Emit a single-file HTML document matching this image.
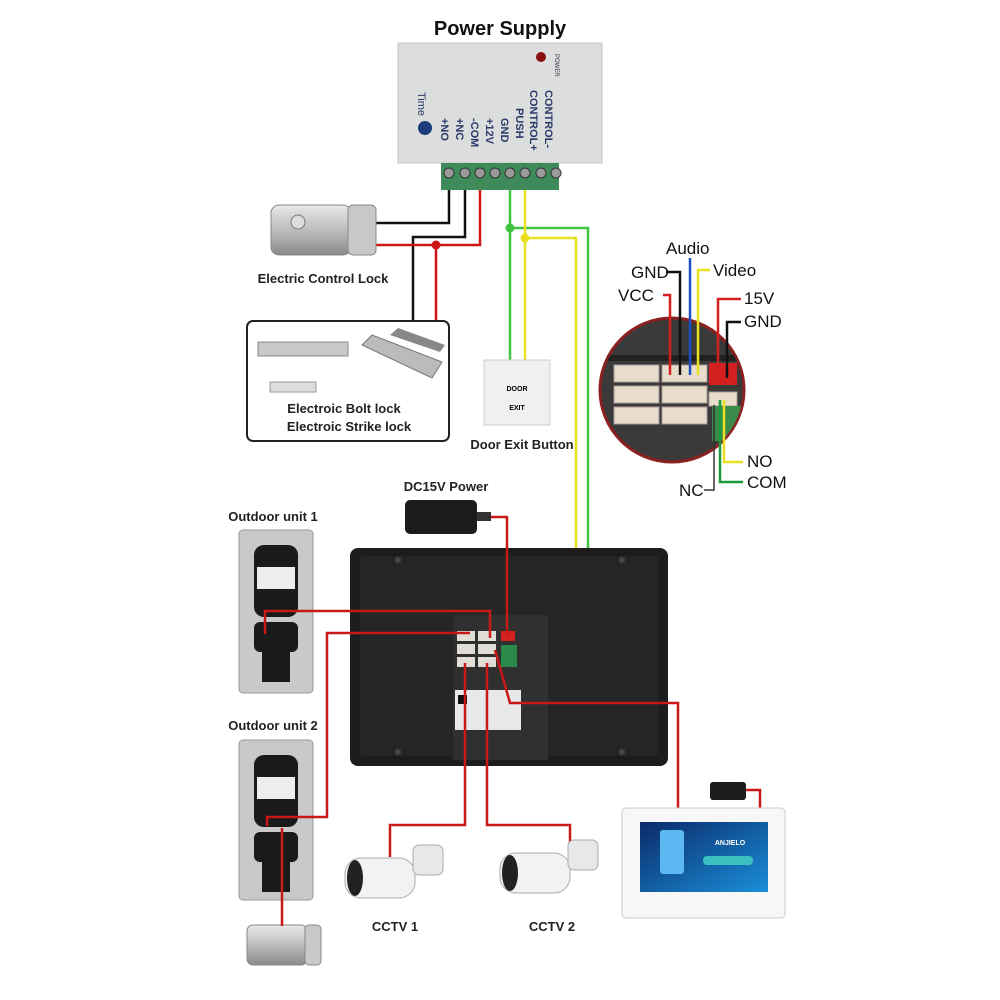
<!DOCTYPE html>
<html><head><meta charset="utf-8"><style>
body{margin:0;background:#fff;}
svg{display:block;font-family:"Liberation Sans",Arial,sans-serif;}
</style></head><body>
<svg width="1000" height="1000" viewBox="0 0 1000 1000" xmlns="http://www.w3.org/2000/svg">
<defs>
<linearGradient id="metal" x1="0" y1="0" x2="0" y2="1"><stop offset="0" stop-color="#e8e8e8"/><stop offset=".5" stop-color="#bdbdbd"/><stop offset="1" stop-color="#8a8a8a"/></linearGradient>
<linearGradient id="scr" x1="0" y1="0" x2="1" y2="1"><stop offset="0" stop-color="#0b2a6a"/><stop offset="1" stop-color="#1a8fd8"/></linearGradient>
<clipPath id="cc"><circle cx="672" cy="390" r="71"/></clipPath>
</defs>
<rect width="1000" height="1000" fill="#fff"/>
<!-- Power supply -->
<text x="500" y="35" font-size="20" font-weight="bold" text-anchor="middle" fill="#111">Power Supply</text>
<rect x="398" y="43" width="204" height="120" fill="#dcdedd" stroke="#c4c6c5"/>
<circle cx="541" cy="57" r="5" fill="#8a1010"/>
<text x="555" y="54" font-size="6" fill="#334" transform="rotate(90 555 54)">POWER</text>
<g font-size="11" fill="#2a3a6a" font-weight="bold">
<text transform="translate(545,90) rotate(90)">CONTROL-</text>
<text transform="translate(530,90) rotate(90)">CONTROL+</text>
<text transform="translate(516,108) rotate(90)">PUSH</text>
<text transform="translate(501,118) rotate(90)">GND</text>
<text transform="translate(486,118) rotate(90)">+12V</text>
<text transform="translate(471,118) rotate(90)">-COM</text>
<text transform="translate(456,118) rotate(90)">+NC</text>
<text transform="translate(441,118) rotate(90)">+NO</text>
<text transform="translate(418,92) rotate(90)" font-weight="normal">Time</text>
</g>
<circle cx="425" cy="128" r="7" fill="#1b3d7a"/>
<rect x="441" y="163" width="118" height="27" fill="#3f8a5a"/>
<g fill="#9a9a9a" stroke="#333" stroke-width="1">
<circle cx="449" cy="173" r="5"/><circle cx="465" cy="173" r="5"/><circle cx="480" cy="173" r="5"/><circle cx="495" cy="173" r="5"/><circle cx="510" cy="173" r="5"/><circle cx="525" cy="173" r="5"/><circle cx="541" cy="173" r="5"/><circle cx="556" cy="173" r="5"/>
</g>
<!-- wires from PS -->
<g fill="none" stroke-width="2.5">
<polyline points="449,190 449,223 370,223" stroke="#111"/>
<polyline points="465,190 465,237 413,237 413,322" stroke="#111"/>
<polyline points="480,190 480,245 372,245" stroke="#d01515"/>
<polyline points="436,245 436,322" stroke="#d01515"/>
<polyline points="510,190 510,362" stroke="#3ec43e"/>
<polyline points="510,228 588,228 588,682 510,682 510,650" stroke="#3ec43e"/>
<polyline points="525,190 525,362" stroke="#e8e020"/>
<polyline points="525,238 576,238 576,674 516,674 516,650" stroke="#e8e020"/>
</g>
<circle cx="436" cy="245" r="4.5" fill="#d01515"/>
<circle cx="510" cy="228" r="4.5" fill="#3ec43e"/>
<circle cx="525" cy="238" r="4.5" fill="#e8e020"/>
<!-- Electric control lock -->
<rect x="271" y="205" width="80" height="50" rx="8" fill="url(#metal)" stroke="#888"/>
<rect x="348" y="205" width="28" height="50" rx="5" fill="#c8c8c8" stroke="#888"/>
<circle cx="298" cy="222" r="7" fill="#ddd" stroke="#777"/>
<text x="323" y="283" font-size="13" font-weight="bold" text-anchor="middle" fill="#222">Electric Control Lock</text>
<!-- bolt box -->
<rect x="247" y="321" width="202" height="120" rx="6" fill="#fff" stroke="#222" stroke-width="2"/>
<rect x="258" y="342" width="90" height="14" fill="#c9c9c9" stroke="#888"/>
<rect x="270" y="382" width="46" height="10" fill="#ddd" stroke="#999"/>
<polygon points="362,345 372,335 442,362 432,378" fill="#bbb" stroke="#777"/>
<polygon points="390,335 398,328 445,345 440,352" fill="#888"/>
<text x="344" y="413" font-size="13" font-weight="bold" text-anchor="middle" fill="#222">Electroic Bolt lock</text>
<text x="349" y="431" font-size="13" font-weight="bold" text-anchor="middle" fill="#222">Electroic Strike lock</text>
<!-- Exit button -->
<rect x="484" y="360" width="66" height="65" fill="#f0f0f0" stroke="#ccc"/>
<text x="517" y="391" font-size="7" font-weight="bold" text-anchor="middle">DOOR</text>
<text x="517" y="410" font-size="7" font-weight="bold" text-anchor="middle">EXIT</text>
<text x="522" y="449" font-size="13" font-weight="bold" text-anchor="middle" fill="#222">Door Exit Button</text>
<!-- connector circle -->
<circle cx="672" cy="390" r="72" fill="#3a3a3a" stroke="#8b2020" stroke-width="3"/>
<g clip-path="url(#cc)">
<rect x="600" y="355" width="150" height="6" fill="#222"/>
<g fill="#e8dccb" stroke="#a99">
<rect x="614" y="365" width="45" height="17"/><rect x="614" y="386" width="45" height="17"/><rect x="614" y="407" width="45" height="17"/>
<rect x="662" y="365" width="45" height="17"/><rect x="662" y="386" width="45" height="17"/><rect x="662" y="407" width="45" height="17"/>
<rect x="709" y="392" width="28" height="14"/>
</g>
<rect x="709" y="363" width="28" height="22" fill="#d52020"/>
<rect x="712" y="406" width="30" height="35" fill="#3a8a4a"/>
</g>
<g fill="none" stroke-width="2.5">
<polyline points="670,375 670,295 663,295" stroke="#d52020"/>
<polyline points="680,375 680,272 666,272" stroke="#111"/>
<polyline points="690,375 690,258" stroke="#1a50c0"/>
<polyline points="698,375 698,270 710,270" stroke="#e8e020"/>
<polyline points="718,378 718,299 741,299" stroke="#d52020"/>
<polyline points="727,378 727,322 741,322" stroke="#111"/>
<polyline points="724,400 724,462 743,462" stroke="#e8e020"/>
<polyline points="720,400 720,482 743,482" stroke="#1a9a3a"/>
<polyline points="714,405 714,490 704,490" stroke="#333" stroke-width="1.5"/>
</g>
<g font-size="17" fill="#111">
<text x="666" y="254">Audio</text>
<text x="631" y="278">GND</text>
<text x="713" y="276">Video</text>
<text x="618" y="301">VCC</text>
<text x="744" y="304">15V</text>
<text x="744" y="327">GND</text>
<text x="747" y="467">NO</text>
<text x="747" y="488">COM</text>
<text x="679" y="496">NC</text>
</g>
<!-- DC15V adapter -->
<text x="446" y="491" font-size="13" font-weight="bold" text-anchor="middle" fill="#222">DC15V Power</text>
<rect x="405" y="500" width="72" height="34" rx="5" fill="#1c1c1c"/>
<rect x="477" y="512" width="14" height="9" fill="#333"/>
<!-- Monitor -->
<rect x="350" y="548" width="318" height="218" rx="8" fill="#1d1d1d"/>
<rect x="360" y="556" width="298" height="200" rx="4" fill="#262626"/>
<rect x="453" y="615" width="95" height="145" fill="#303030"/>
<g fill="#e0dcd6"><rect x="457" y="631" width="18" height="10"/><rect x="478" y="631" width="18" height="10"/><rect x="457" y="644" width="18" height="10"/><rect x="478" y="644" width="18" height="10"/><rect x="457" y="657" width="18" height="10"/><rect x="478" y="657" width="18" height="10"/></g>
<rect x="501" y="631" width="14" height="10" fill="#d52020"/>
<rect x="501" y="645" width="16" height="22" fill="#2a8a4a"/>
<rect x="455" y="690" width="66" height="40" fill="#e8e8e8"/>
<rect x="458" y="695" width="9" height="9" fill="#111"/>
<g fill="#444"><circle cx="398" cy="560" r="3"/><circle cx="622" cy="560" r="3"/><circle cx="398" cy="752" r="3"/><circle cx="622" cy="752" r="3"/></g>
<!-- Outdoor units -->
<text x="273" y="521" font-size="13" font-weight="bold" text-anchor="middle" fill="#222">Outdoor unit 1</text>
<text x="273" y="730" font-size="13" font-weight="bold" text-anchor="middle" fill="#222">Outdoor unit 2</text>
<g>
<rect x="239" y="530" width="74" height="163" rx="4" fill="#c9c9c9" stroke="#999"/>
<rect x="254" y="545" width="44" height="72" rx="10" fill="#1a1a1a"/>
<rect x="257" y="567" width="38" height="22" fill="#eee"/>
<rect x="254" y="622" width="44" height="30" rx="6" fill="#1a1a1a"/>
<rect x="262" y="652" width="28" height="30" fill="#1a1a1a"/>
<rect x="239" y="740" width="74" height="160" rx="4" fill="#c9c9c9" stroke="#999"/>
<rect x="254" y="755" width="44" height="72" rx="10" fill="#1a1a1a"/>
<rect x="257" y="777" width="38" height="22" fill="#eee"/>
<rect x="254" y="832" width="44" height="30" rx="6" fill="#1a1a1a"/>
<rect x="262" y="862" width="28" height="30" fill="#1a1a1a"/>
</g>
<rect x="247" y="925" width="60" height="40" rx="6" fill="url(#metal)" stroke="#888"/>
<rect x="305" y="925" width="16" height="40" rx="4" fill="#c8c8c8" stroke="#888"/>
<!-- red wires lower -->
<g fill="none" stroke="#c81818" stroke-width="2.5">
<polyline points="507,517 491,517"/>
<polyline points="507,516 507,636"/>
<polyline points="265,634 265,611 490,611 490,638"/>
<polyline points="267,826 267,817 327,817 327,633 470,633"/>
<polyline points="282,828 282,926"/>
<polyline points="465,663 465,825 390,825 390,857"/>
<polyline points="487,663 487,825 570,825 570,850"/>
<polyline points="495,650 510,703 678,703 678,810"/>
<polyline points="745,790 760,790 760,810"/>
</g>
<!-- CCTV -->
<g>
<rect x="345" y="858" width="70" height="40" rx="16" fill="#f2f2f2" stroke="#aaa"/>
<ellipse cx="355" cy="878" rx="8" ry="18" fill="#222"/>
<rect x="413" y="845" width="30" height="30" rx="6" fill="#e8e8e8" stroke="#aaa"/>
<rect x="500" y="853" width="70" height="40" rx="16" fill="#f2f2f2" stroke="#aaa"/>
<ellipse cx="510" cy="873" rx="8" ry="18" fill="#222"/>
<rect x="568" y="840" width="30" height="30" rx="6" fill="#e8e8e8" stroke="#aaa"/>
</g>
<text x="395" y="931" font-size="13" font-weight="bold" text-anchor="middle" fill="#222">CCTV 1</text>
<text x="552" y="931" font-size="13" font-weight="bold" text-anchor="middle" fill="#222">CCTV 2</text>
<!-- tablet -->
<rect x="710" y="782" width="36" height="18" rx="3" fill="#1c1c1c"/>
<rect x="622" y="808" width="163" height="110" rx="4" fill="#f7f7f7" stroke="#ccc"/>
<rect x="640" y="822" width="128" height="70" fill="url(#scr)"/>
<rect x="660" y="830" width="24" height="44" rx="3" fill="#5cb8f0"/>
<text x="730" y="845" font-size="7" fill="#fff" text-anchor="middle" font-weight="bold">ANJIELO</text>
<rect x="703" y="856" width="50" height="9" rx="4" fill="#3fc0c0"/>
</svg>
</body></html>
